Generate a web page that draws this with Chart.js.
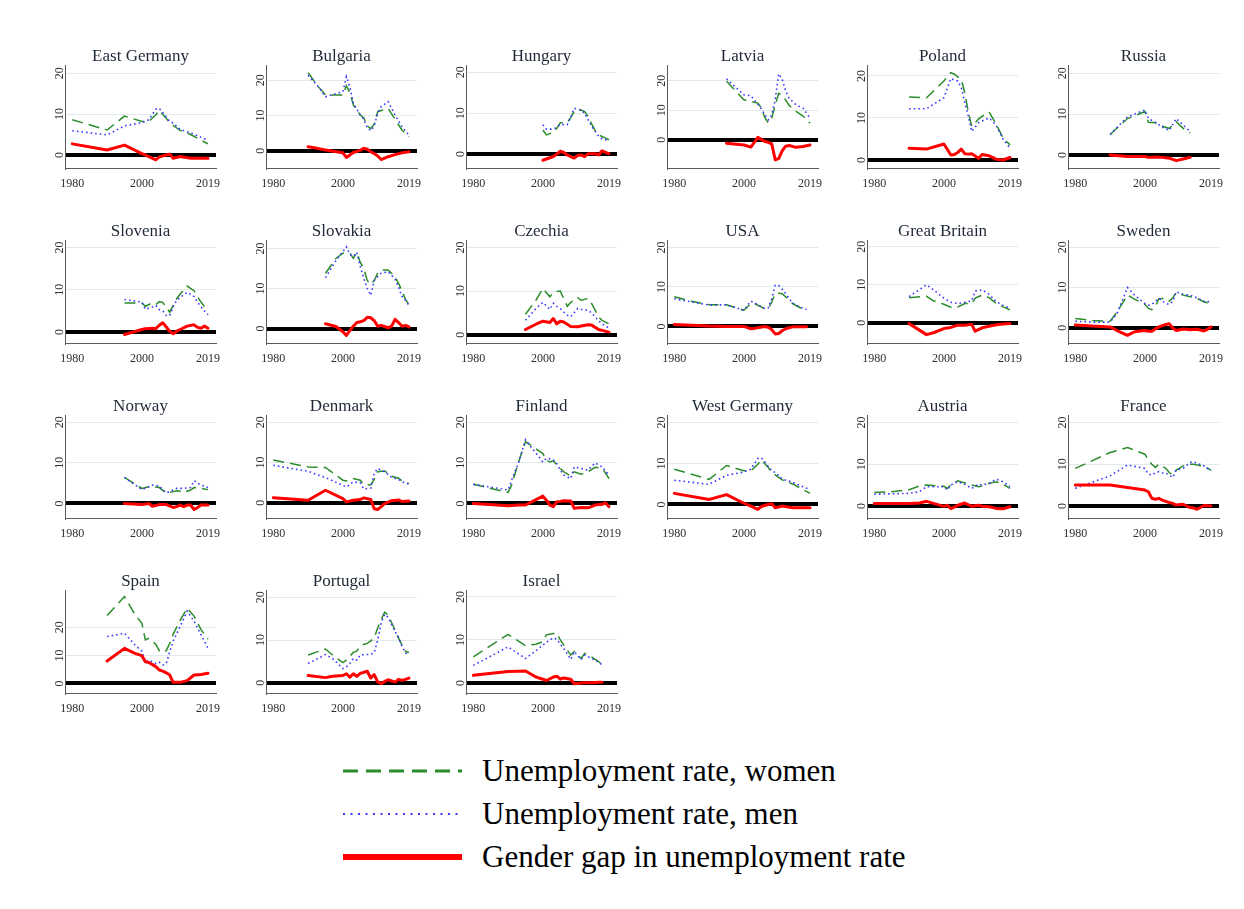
<!DOCTYPE html>
<html>
<head>
<meta charset="utf-8">
<title>Unemployment rates of women and men, and the gender gap</title>
<script src="https://cdn.jsdelivr.net/npm/chart.js@4.4.1/dist/chart.umd.min.js"></script>
<style>
  html, body { margin: 0; padding: 0; background: #fff; }
  #page { position: relative; width: 1244px; height: 909px; overflow: hidden; background: #fff; }
  #page canvas { position: absolute; }
  #legend { position: absolute; left: 0; top: 740px; }
  #legend text { font-family: "Liberation Serif", "Times New Roman", serif; font-size: 31px; fill: #000; }
</style>
</head>
<body>
<div id="page"></div>
<script>
// ---------- data (percent) ----------
const countries = ['East Germany', 'Bulgaria', 'Hungary', 'Latvia', 'Poland', 'Russia',
  'Slovenia', 'Slovakia', 'Czechia', 'USA', 'Great Britain', 'Sweden',
  'Norway', 'Denmark', 'Finland', 'West Germany', 'Austria', 'France',
  'Spain', 'Portugal', 'Israel'];

const years = [
  [1980, 1990, 1995, 2000, 2002, 2004, 2005, 2007, 2008, 2009, 2011, 2014, 2019],
  [1990, 1993, 1995, 2000, 2001, 2002, 2003, 2005, 2006, 2007, 2008, 2009, 2010, 2011, 2013, 2015, 2017, 2019],
  [2000, 2001, 2002, 2003, 2004, 2005, 2006, 2007, 2008, 2009, 2010, 2011, 2012, 2013, 2014, 2015, 2016, 2017, 2018, 2019],
  [1995, 2000, 2002, 2004, 2005, 2006, 2007, 2008, 2009, 2010, 2011, 2012, 2013, 2015, 2017, 2019],
  [1990, 1995, 2000, 2002, 2003, 2004, 2005, 2006, 2007, 2008, 2010, 2011, 2013, 2015, 2017, 2019],
  [1990, 1995, 2000, 2001, 2003, 2005, 2007, 2009, 2011, 2013],
  [1995, 2000, 2001, 2003, 2004, 2005, 2006, 2007, 2008, 2009, 2010, 2011, 2013, 2015, 2016, 2017, 2018, 2019],
  [1995, 1998, 2000, 2001, 2002, 2003, 2004, 2005, 2006, 2007, 2008, 2009, 2010, 2011, 2013, 2014, 2015, 2016, 2017, 2018, 2019],
  [1995, 1998, 2000, 2002, 2003, 2004, 2005, 2006, 2007, 2008, 2010, 2011, 2013, 2014, 2016, 2017, 2019],
  [1980, 1985, 1990, 1995, 2000, 2002, 2003, 2006, 2007, 2008, 2009, 2010, 2011, 2012, 2014, 2016, 2018],
  [1990, 1995, 1997, 2000, 2002, 2004, 2006, 2008, 2009, 2011, 2013, 2015, 2017, 2019],
  [1980, 1985, 1990, 1992, 1995, 1997, 2000, 2001, 2002, 2003, 2004, 2006, 2007, 2008, 2009, 2011, 2013, 2015, 2017, 2018, 2019],
  [1995, 2000, 2002, 2003, 2005, 2007, 2009, 2010, 2011, 2012, 2013, 2014, 2015, 2016, 2017, 2019],
  [1980, 1990, 1995, 2000, 2001, 2003, 2005, 2006, 2008, 2009, 2010, 2012, 2014, 2016, 2017, 2019],
  [1980, 1990, 1991, 1993, 1995, 2000, 2001, 2002, 2003, 2004, 2005, 2006, 2008, 2009, 2011, 2013, 2015, 2016, 2017, 2018, 2019],
  [1980, 1990, 1995, 2000, 2002, 2004, 2005, 2007, 2008, 2009, 2011, 2014, 2019],
  [1980, 1985, 1990, 1993, 1995, 2000, 2001, 2002, 2004, 2006, 2008, 2010, 2011, 2013, 2015, 2017, 2019],
  [1980, 1990, 1995, 2000, 2001, 2002, 2003, 2004, 2005, 2006, 2007, 2008, 2009, 2011, 2013, 2014, 2015, 2017, 2019],
  [1990, 1995, 1998, 2000, 2001, 2002, 2004, 2005, 2006, 2007, 2008, 2009, 2011, 2013, 2015, 2017, 2019],
  [1990, 1995, 1997, 2000, 2001, 2002, 2003, 2004, 2005, 2007, 2008, 2009, 2010, 2011, 2012, 2013, 2015, 2016, 2017, 2018, 2019],
  [1980, 1990, 1995, 1998, 2000, 2001, 2003, 2004, 2005, 2006, 2008, 2009, 2011, 2012, 2014, 2016, 2017]
];

const women = [
  [8.6, 6.1, 9.5, 8.2, 8.2, 9.8, 10.9, 9.0, 7.8, 7.2, 6.0, 5.0, 2.7],
  [22.1, 18.1, 15.8, 15.8, 18.4, 16.5, 13.0, 10.1, 9.3, 7.0, 6.3, 7.5, 11.0, 11.4, 12.0, 8.9, 5.8, 4.0],
  [5.9, 4.7, 5.0, 5.3, 6.3, 7.7, 7.7, 7.7, 9.0, 10.4, 10.6, 10.8, 10.4, 9.2, 7.4, 5.8, 4.8, 4.3, 3.9, 3.5],
  [19.8, 13.5, 13.0, 12.4, 10.8, 7.5, 5.7, 7.3, 11.7, 15.7, 15.0, 13.5, 11.6, 9.6, 8.0, 5.6],
  [15.0, 14.8, 18.8, 20.8, 20.4, 19.8, 19.2, 16.0, 11.5, 8.0, 9.8, 10.4, 11.4, 8.6, 5.2, 3.6],
  [5.0, 8.9, 10.6, 8.0, 7.9, 7.0, 6.5, 8.1, 6.5, 5.4],
  [6.9, 6.9, 6.1, 6.9, 6.5, 7.2, 7.0, 5.9, 4.7, 6.3, 7.9, 9.0, 10.9, 9.8, 8.3, 7.1, 6.0, 4.9],
  [13.8, 17.5, 18.8, 18.8, 18.8, 17.5, 19.0, 16.5, 15.0, 12.0, 11.0, 12.0, 13.8, 14.6, 14.6, 13.8, 12.9, 11.3, 9.3, 7.3, 6.0],
  [4.7, 7.9, 10.6, 8.7, 9.7, 9.9, 10.0, 8.3, 6.5, 7.4, 8.5, 7.9, 8.3, 7.2, 4.1, 3.3, 2.5],
  [7.5, 6.4, 5.5, 5.5, 4.1, 5.8, 5.8, 4.5, 4.5, 6.2, 8.3, 8.4, 8.3, 7.5, 5.8, 4.8, 4.2],
  [6.6, 7.0, 5.8, 4.9, 4.1, 4.2, 5.1, 5.1, 6.5, 7.3, 6.6, 5.1, 4.2, 3.4],
  [2.3, 1.8, 1.6, 3.9, 8.1, 7.1, 5.8, 4.8, 4.5, 5.2, 7.2, 7.3, 6.6, 7.4, 8.7, 8.1, 7.7, 7.3, 6.4, 6.2, 6.8],
  [6.4, 3.7, 4.1, 4.1, 3.9, 2.5, 2.9, 3.1, 3.0, 2.6, 3.0, 3.3, 3.9, 3.8, 3.7, 3.4],
  [10.6, 8.9, 8.75, 5.6, 5.4, 6.0, 5.6, 4.5, 4.4, 5.8, 7.7, 7.9, 6.6, 6.1, 5.4, 4.75],
  [4.7, 2.7, 4.5, 10.2, 15.2, 12.3, 10.7, 10.2, 10.5, 9.5, 8.6, 7.8, 6.7, 7.8, 7.2, 7.8, 8.9, 8.8, 8.6, 7.5, 6.1],
  [8.6, 6.1, 9.5, 8.2, 8.2, 9.8, 10.9, 9.0, 7.8, 7.2, 6.0, 5.0, 2.7],
  [3.2, 3.4, 3.9, 4.8, 5.0, 4.7, 4.2, 5.0, 6.0, 5.5, 5.0, 4.6, 4.8, 5.4, 5.8, 5.2, 4.2],
  [9.0, 12.8, 14.0, 12.4, 11.0, 10.0, 9.2, 10.0, 9.5, 9.0, 8.0, 7.4, 8.6, 9.6, 10.0, 10.0, 9.8, 9.5, 8.6],
  [24.2, 31.0, 24.6, 21.4, 15.5, 16.1, 14.0, 11.6, 11.0, 11.7, 14.3, 17.6, 22.5, 26.8, 24.0, 19.2, 15.8],
  [6.5, 7.9, 6.5, 4.7, 5.3, 6.2, 7.1, 7.4, 8.7, 9.2, 9.8, 10.5, 12.8, 14.8, 16.5, 15.8, 12.3, 10.5, 8.8, 7.3, 7.1],
  [6.1, 11.3, 8.7, 9.0, 9.6, 11.2, 11.5, 11.6, 10.0, 8.8, 6.5, 7.3, 5.7, 6.9, 6.1, 5.0, 4.3]
];

const men = [
  [5.9, 4.9, 7.1, 7.9, 8.6, 11.2, 11.4, 9.3, 8.2, 7.8, 6.2, 5.4, 3.6],
  [21.4, 18.1, 15.3, 16.7, 21.0, 18.1, 13.5, 10.1, 9.0, 6.5, 5.7, 7.0, 10.6, 12.5, 13.9, 10.1, 6.8, 4.4],
  [7.2, 6.1, 6.1, 6.1, 6.6, 7.2, 7.2, 7.2, 9.0, 11.2, 11.0, 10.8, 10.0, 8.4, 6.8, 5.6, 4.4, 3.7, 3.5, 3.3],
  [20.6, 15.2, 14.9, 12.0, 10.5, 8.5, 6.7, 8.4, 13.5, 22.3, 20.5, 16.5, 14.0, 11.8, 10.7, 7.3],
  [12.2, 12.2, 14.8, 19.4, 19.0, 18.8, 17.2, 13.8, 10.5, 6.8, 8.9, 9.3, 10.0, 8.3, 5.0, 2.8],
  [5.0, 9.3, 11.0, 8.9, 8.0, 6.8, 6.0, 8.9, 7.3, 5.7],
  [7.7, 7.1, 5.4, 5.9, 6.3, 5.3, 5.0, 3.9, 3.9, 6.0, 7.5, 8.2, 9.4, 8.4, 7.0, 6.0, 5.0, 4.1],
  [12.7, 17.0, 19.2, 20.4, 18.5, 18.0, 19.0, 15.5, 12.5, 10.0, 8.3, 12.0, 13.0, 13.8, 14.2, 13.3, 12.3, 10.3, 8.0, 7.0, 5.8],
  [3.3, 6.0, 7.4, 5.8, 7.2, 6.5, 6.0, 5.2, 4.5, 4.1, 6.0, 5.8, 5.6, 5.0, 3.2, 2.5, 1.5],
  [7.0, 6.2, 5.4, 5.5, 4.1, 6.4, 6.0, 4.5, 4.7, 7.0, 10.4, 10.4, 9.4, 8.3, 5.9, 4.9, 4.3],
  [6.9, 10.0, 8.7, 6.5, 5.4, 5.1, 5.4, 5.8, 8.4, 8.7, 7.5, 5.6, 4.6, 3.8],
  [1.6, 1.4, 1.4, 3.5, 10.0, 8.1, 6.0, 5.6, 5.8, 6.5, 7.3, 6.0, 5.8, 6.5, 8.9, 8.3, 8.1, 7.4, 6.6, 6.3, 7.1],
  [6.4, 3.4, 4.1, 4.5, 4.3, 2.6, 3.3, 3.7, 3.7, 3.7, 3.8, 3.9, 5.6, 5.0, 4.5, 3.9],
  [9.3, 7.8, 6.25, 4.3, 3.9, 5.2, 4.9, 3.4, 3.6, 7.3, 8.5, 7.7, 6.3, 5.8, 5.2, 4.6],
  [4.7, 3.3, 5.7, 10.0, 15.7, 10.2, 11.1, 11.0, 10.7, 9.8, 8.2, 7.0, 6.1, 9.0, 8.6, 8.2, 10.0, 9.5, 9.0, 8.0, 7.0],
  [5.9, 4.9, 7.1, 7.9, 8.6, 11.2, 11.4, 9.3, 8.2, 7.8, 6.2, 5.4, 3.6],
  [2.8, 2.9, 3.0, 3.4, 4.6, 4.6, 3.8, 5.0, 5.8, 5.2, 4.2, 5.2, 5.0, 5.4, 6.4, 5.8, 4.6],
  [4.2, 7.2, 9.8, 9.0, 7.6, 7.4, 7.9, 8.2, 7.9, 7.9, 7.4, 6.8, 8.6, 9.0, 10.4, 10.6, 10.2, 9.6, 8.4],
  [16.7, 17.9, 13.7, 11.5, 7.7, 8.3, 7.1, 7.6, 6.6, 7.0, 11.3, 15.2, 20.3, 25.8, 22.2, 17.4, 12.5],
  [4.5, 6.6, 5.7, 3.3, 3.7, 4.5, 5.7, 5.3, 6.5, 6.6, 6.6, 7.0, 10.0, 14.0, 16.0, 15.3, 12.0, 10.5, 8.5, 7.0, 6.3],
  [4.1, 8.4, 5.7, 7.5, 8.8, 9.5, 10.5, 10.2, 9.0, 8.0, 5.5, 7.3, 5.5, 6.5, 5.7, 4.9, 4.2]
];

const gap = [
  [2.7, 1.2, 2.4, 0.3, -0.4, -1.2, -0.5, 0.0, 0.2, -0.8, -0.4, -0.8, -0.8],
  [1.1, 0.6, 0.2, -0.6, -1.9, -1.2, -0.5, 0.1, 0.7, 0.4, -0.3, -0.8, -1.5, -2.5, -1.7, -1.1, -0.6, -0.3],
  [-1.5, -1.2, -0.9, -0.6, 0.0, 0.7, 0.4, -0.2, -0.6, -1.0, -0.3, -0.2, -0.6, 0.1, 0.1, 0.1, -0.2, 0.8, 0.4, 0.1],
  [-1.2, -1.8, -2.5, 0.8, 0.1, -0.6, -0.9, -1.4, -6.8, -6.4, -3.8, -2.2, -2.0, -2.6, -2.3, -1.8],
  [2.8, 2.6, 3.8, 1.2, 1.3, 1.8, 2.6, 1.5, 1.4, 1.5, 0.4, 1.3, 1.0, 0.2, 0.0, 0.6],
  [0.0, -0.4, -0.4, -0.6, -0.5, -0.6, -0.8, -1.4, -1.0, -0.6],
  [-0.6, 0.6, 0.8, 0.9, 0.8, 1.6, 2.2, 1.2, 0.2, -0.4, 0.2, 0.6, 1.4, 1.7, 1.1, 0.9, 1.4, 0.9],
  [1.2, 0.5, -0.8, -1.7, -0.5, 0.6, 1.5, 1.7, 2.0, 2.8, 2.7, 2.0, 0.6, 0.8, 0.2, 0.6, 2.3, 1.5, 0.6, 0.8, 0.4],
  [1.2, 2.4, 3.1, 2.8, 3.7, 2.5, 3.1, 2.9, 2.4, 1.9, 1.8, 2.0, 2.3, 2.2, 1.2, 1.0, 0.6],
  [0.5, 0.3, 0.1, 0.0, 0.0, -0.6, -0.5, 0.0, -0.2, -0.8, -1.9, -1.8, -1.1, -0.6, -0.1, -0.1, -0.1],
  [-0.2, -3.1, -2.6, -1.5, -1.2, -0.6, -0.6, -0.4, -2.2, -1.3, -0.9, -0.5, -0.3, -0.2],
  [0.7, 0.4, 0.2, -0.7, -1.9, -1.0, -0.7, -0.9, -0.9, -0.3, 0.2, 0.8, 1.0, -0.1, -0.7, -0.3, -0.5, -0.4, -0.8, -0.4, 0.2],
  [0.0, -0.3, 0.0, -0.7, -0.3, -0.3, -1.0, -0.8, -0.4, -0.8, -0.4, -0.4, -1.5, -1.0, -0.4, -0.4],
  [1.25, 0.6, 3.1, 1.0, 0.2, 0.6, 0.8, 1.2, 0.8, -1.5, -1.7, -0.2, 0.5, 0.7, 0.3, 0.4],
  [0.0, -0.6, -0.5, -0.4, -0.4, 1.8, 0.8, -0.4, -0.8, 0.4, 0.5, 0.65, 0.6, -1.2, -1.0, -1.1, -0.4, -0.3, -0.25, 0.15, -0.8],
  [2.7, 1.2, 2.4, 0.3, -0.4, -1.2, -0.5, 0.0, 0.2, -0.8, -0.4, -0.8, -0.8],
  [0.55, 0.55, 0.6, 0.7, 1.1, -0.1, 0.15, -0.65, 0.15, 0.7, -0.1, 0.15, -0.1, -0.2, -0.6, -0.7, -0.2],
  [5.0, 5.0, 4.4, 3.8, 3.4, 1.8, 1.6, 1.8, 1.4, 1.1, 0.8, 0.6, 0.2, 0.4, -0.4, -0.5, -0.8, 0.1, 0.0],
  [8.0, 12.5, 10.7, 9.9, 7.7, 7.5, 6.0, 4.8, 4.4, 3.8, 3.0, 0.4, 0.4, 1.0, 3.0, 3.2, 3.6],
  [1.7, 1.2, 1.5, 1.7, 2.1, 1.3, 2.1, 1.5, 2.2, 2.7, 1.1, 1.9, 0.2, -0.2, 0.3, 0.7, 0.15, 0.8, 0.55, 0.8, 1.1],
  [1.8, 2.7, 2.8, 1.4, 0.9, 0.6, 1.4, 1.6, 0.9, 1.2, 0.9, -0.15, 0.0, 0.1, 0.1, 0.2, 0.2]
];

// value range of each panel's vertical axis
const yMin = [-3.2, -4.9, -3.4, -9.6, -1.9, -3.2, -2.6, -3.6, -1.9, -4.2, -5.3, -3.8,
  -3.6, -3.8, -3.6, -3.3, -2.9, -2.9, -3.4, -2.4, -2.3];
const yMax = [22.0, 24.3, 21.8, 25.3, 22.6, 22.0, 21.8, 22.1, 21.7, 21.9, 21.8, 21.8,
  21.8, 21.8, 21.8, 21.8, 21.8, 21.8, 33.3, 21.7, 21.6];

const xTicks = [1980, 2000, 2019];
const yTicks = [0, 10, 20];
const seriesLabels = ['Unemployment rate, women', 'Unemployment rate, men', 'Gender gap in unemployment rate'];

// ---------- styling ----------
const SERIF = '"Liberation Serif", "Times New Roman", serif';
const WOMEN_COLOR = '#2a8c2a';
const MEN_COLOR = '#3b3bff';
const GAP_COLOR = '#ff0000';
const AXIS_COLOR = '#5b5b5b';
const GRID_COLOR = '#e1eaea';

const CANVAS_W = 200, CANVAS_H = 175;
const AREA_LEFT = 45, AREA_TOP = 40, AREA_W = 151, AREA_H = 103;

Chart.defaults.font.family = SERIF;

// titles and tick labels of a panel, placed with the panel's own scales
const panelText = {
  id: 'panelText',
  afterDraw(chart, args, opts) {
    const { ctx, chartArea: a, scales: { x, y } } = chart;
    ctx.save();
    ctx.fillStyle = '#1f2836';
    ctx.font = '17px ' + SERIF;
    ctx.textAlign = 'center';
    ctx.textBaseline = 'alphabetic';
    ctx.fillText(opts.title, (a.left + a.right) / 2, a.top - 4);

    ctx.fillStyle = '#2e2e2e';
    ctx.font = '12px ' + SERIF;
    xTicks.forEach(v => ctx.fillText(String(v), x.getPixelForValue(v), a.bottom + 19));
    y.ticks.forEach(t => {
      ctx.save();
      ctx.translate(a.left - 2, y.getPixelForValue(t.value));
      ctx.rotate(-Math.PI / 2);
      ctx.textAlign = 'center';
      ctx.fillText(String(t.value), 0, 0);
      ctx.restore();
    });
    ctx.restore();
  }
};

function points(i, values) {
  return years[i].map((yr, k) => ({ x: yr, y: values[i][k] }));
}

const page = document.getElementById('page');

countries.forEach((name, i) => {
  const row = Math.floor(i / 6), col = i % 6;
  const axisX = 65 + col * 200.6;
  const areaTop = 65 + row * 175;
  const canvas = document.createElement('canvas');
  canvas.width = CANVAS_W;
  canvas.height = CANVAS_H;
  canvas.style.left = Math.round(axisX - AREA_LEFT) + 'px';
  canvas.style.top = Math.round(areaTop - AREA_TOP) + 'px';
  canvas.style.width = CANVAS_W + 'px';
  canvas.style.height = CANVAS_H + 'px';
  page.appendChild(canvas);

  new Chart(canvas, {
    type: 'line',
    data: {
      datasets: [
        { label: seriesLabels[0], data: points(i, women), borderColor: WOMEN_COLOR,
          borderWidth: 1.5, borderDash: [11, 6], order: 3 },
        { label: seriesLabels[1], data: points(i, men), borderColor: MEN_COLOR,
          borderWidth: 1.6, borderDash: [1.6, 3], order: 2 },
        { label: seriesLabels[2], data: points(i, gap), borderColor: GAP_COLOR,
          borderWidth: 3, borderJoinStyle: 'round', borderCapStyle: 'round', order: 1 }
      ]
    },
    options: {
      responsive: false,
      animation: false,
      devicePixelRatio: 1,
      events: [],
      layout: { padding: { top: AREA_TOP, right: CANVAS_W - AREA_LEFT - AREA_W, left: 0, bottom: 0 } },
      elements: { point: { radius: 0 }, line: { tension: 0, fill: false } },
      plugins: { legend: { display: false }, tooltip: { enabled: false }, title: { display: false },
        panelText: { title: name } },
      scales: {
        x: {
          type: 'linear', min: 1977.9, max: 2021.3, bounds: 'data',
          afterBuildTicks: s => { s.ticks = xTicks.map(v => ({ value: v })); },
          afterFit: s => { s.height = CANVAS_H - AREA_TOP - AREA_H; },
          ticks: { display: false },
          grid: { display: false },
          border: { display: true, color: AXIS_COLOR, width: 1 }
        },
        y: {
          type: 'linear', min: yMin[i], max: yMax[i], bounds: 'data',
          afterBuildTicks: s => { s.ticks = yTicks.filter(v => v >= s.min && v <= s.max).map(v => ({ value: v })); },
          afterFit: s => { s.width = AREA_LEFT; },
          ticks: { display: false },
          grid: {
            drawTicks: false,
            color: c => (c.tick && c.tick.value === 0) ? '#000' : GRID_COLOR,
            lineWidth: c => (c.tick && c.tick.value === 0) ? 4 : 1
          },
          border: { display: true, color: AXIS_COLOR, width: 1 }
        }
      }
    },
    plugins: [panelText]
  });
});

// ---------- shared legend ----------
const NS = 'http://www.w3.org/2000/svg';
const legend = document.createElementNS(NS, 'svg');
legend.setAttribute('id', 'legend');
legend.setAttribute('width', '1244');
legend.setAttribute('height', '150');
page.appendChild(legend);

const keyStyles = [
  { color: WOMEN_COLOR, width: 3, dash: '15 8' },
  { color: MEN_COLOR, width: 2, dash: '2 5.5' },
  { color: GAP_COLOR, width: 6, dash: null }
];
seriesLabels.forEach((label, k) => {
  const cy = 31 + k * 43;
  const line = document.createElementNS(NS, 'line');
  line.setAttribute('x1', '343');
  line.setAttribute('x2', '462');
  line.setAttribute('y1', cy);
  line.setAttribute('y2', cy);
  line.setAttribute('stroke', keyStyles[k].color);
  line.setAttribute('stroke-width', keyStyles[k].width);
  if (keyStyles[k].dash) line.setAttribute('stroke-dasharray', keyStyles[k].dash);
  legend.appendChild(line);
  const text = document.createElementNS(NS, 'text');
  text.setAttribute('x', '482');
  text.setAttribute('y', cy + 10);
  text.textContent = label;
  legend.appendChild(text);
});
</script>
</body>
</html>
